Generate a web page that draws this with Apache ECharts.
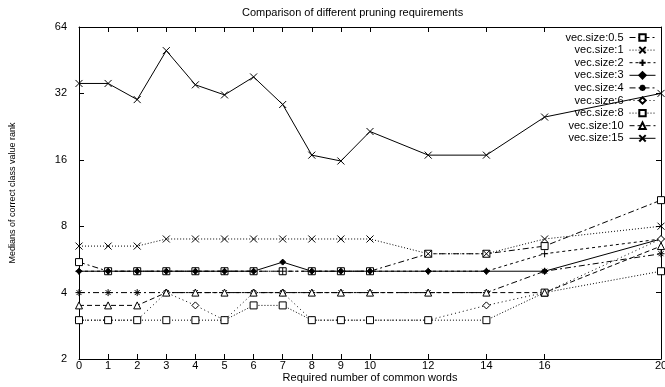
<!DOCTYPE html>
<html>
<head>
<meta charset="utf-8">
<script src="https://cdn.jsdelivr.net/npm/echarts@6/dist/echarts.min.js"></script>
<style>
  html, body { margin: 0; padding: 0; background: #fff; }
  #chart { width: 665px; height: 387px; }
</style>
</head>
<body>
<div id="chart"></div>
<script>
// x positions (required number of common words)
const words = [0, 1, 2, 3, 4, 5, 6, 7, 8, 9, 10, 12, 14, 16, 20];
const xTicks = [0, 1, 2, 3, 4, 5, 6, 7, 8, 9, 10, 12, 14, 16, 20];
const yTicks = [2, 4, 8, 16, 32, 64];

// median rank per vector size
const vs05 = [5.5, 5, 5, 5, 5, 5, 5, 5, 5, 5, 5, 6, 6, 6.5, 10.5];
const vs1  = [6.5, 6.5, 6.5, 7, 7, 7, 7, 7, 7, 7, 7, 6, 6, 7, 8];
const vs2  = [5, 5, 5, 5, 5, 5, 5, 5, 5, 5, 5, 5, 5, 6, 7];
const vs3  = [5, 5, 5, 5, 5, 5, 5, 5.5, 5, 5, 5, 5, 5, 5, 7];
const vs4  = [4, 4, 4, 4, 4, 4, 4, 4, 4, 4, 4, 4, 4, 5, 6];
const vs6  = [3, 3, 3, 4, 3.5, 3, 4, 4, 3, 3, 3, 3, 3.5, 4, 7];
const vs8  = [3, 3, 3, 3, 3, 3, 3.5, 3.5, 3, 3, 3, 3, 3, 4, 5];
const vs10 = [3.5, 3.5, 3.5, 4, 4, 4, 4, 4, 4, 4, 4, 4, 4, 4, 6.5];
const vs15 = [35.5, 35.5, 30, 50, 35, 31.5, 38, 28.5, 16.8, 15.8, 21.5, 16.8, 16.8, 25, 32];

// gnuplot-like point shapes
const SYM = {
    cross: 'path://M0,0L10,10M10,0L0,10',
    plus: 'path://M5,0L5,10M0,5L10,5',
    star: 'path://M5,0L5,10M0,5L10,5M1.5,1.5L8.5,8.5M8.5,1.5L1.5,8.5',
    square: 'path://M0,0L10,0L10,10L0,10Z',
    diamond: 'path://M5,0L10,5L5,10L0,5Z',
    triangle: 'path://M5,0L10,9L0,9Z'
};

const FONT = 'Liberation Sans, Arial, sans-serif';

const mk = (name, vals, symbol, dash, fill, size) => ({
    name: name,
    type: 'line',
    data: words.map((x, i) => [x, vals[i]]),
    symbol: symbol,
    symbolSize: size || 7,
    showSymbol: true,
    lineStyle: { color: '#000', width: 1, type: dash },
    itemStyle: { color: fill || '#fff', borderColor: '#000', borderWidth: 1 },
    emphasis: { disabled: true }
});

const series = [
    mk('vec.size:0.5', vs05, SYM.square, [6, 3, 2, 3]),
    mk('vec.size:1', vs1, SYM.cross, [1, 2]),
    mk('vec.size:2', vs2, SYM.plus, [3, 3]),
    mk('vec.size:3', vs3, SYM.diamond, 'solid', '#000', 6),
    mk('vec.size:4', vs4, SYM.star, [6, 3, 2, 3]),
    mk('vec.size:6', vs6, SYM.diamond, [1, 3]),
    mk('vec.size:8', vs8, SYM.square, [1, 2]),
    mk('vec.size:10', vs10, SYM.triangle, [5, 3]),
    mk('vec.size:15', vs15, SYM.cross, 'solid')
];

const chart = echarts.init(document.getElementById('chart'));

const xAxisBase = {
    type: 'value',
    min: 0,
    max: 20,
    interval: 1,
    splitLine: { show: false },
    axisLine: { show: true, onZero: false, lineStyle: { color: '#000', width: 1 } },
    axisTick: { show: true, inside: true, length: 5, customValues: xTicks, lineStyle: { color: '#000' } }
};

const yAxisBase = {
    type: 'log',
    logBase: 2,
    min: 2,
    max: 64,
    splitLine: { show: false },
    axisLine: { show: true, onZero: false, lineStyle: { color: '#000', width: 1 } },
    axisTick: { show: true, inside: true, length: 5, lineStyle: { color: '#000' } }
};

chart.setOption({
    animation: false,
    backgroundColor: '#fff',
    textStyle: { fontFamily: FONT },
    title: {
        text: 'Comparison of different pruning requirements',
        left: 237,
        top: 2,
        textStyle: { fontSize: 11, fontWeight: 'normal', color: '#000', fontFamily: FONT }
    },
    legend: {
        orient: 'vertical',
        right: 4,
        top: 27,
        align: 'right',
        itemWidth: 26,
        itemHeight: 8,
        itemGap: 1.6,
        selectedMode: false,
        lineStyle: { width: 1 },
        textStyle: { fontSize: 11, color: '#000', fontFamily: FONT, padding: [0, 1, 0, 0] },
        data: series.map(s => s.name)
    },
    grid: { left: 79, right: 4, top: 27, bottom: 28, outerBoundsMode: 'none', containLabel: false },
    xAxis: [
        Object.assign({}, xAxisBase, {
            position: 'bottom',
            name: 'Required number of common words',
            nameLocation: 'middle',
            nameGap: 13,
            nameMoveOverlap: false,
            nameTextStyle: { fontSize: 11, color: '#000', fontFamily: FONT },
            axisLabel: { customValues: xTicks, margin: 1, fontSize: 11, color: '#000', fontFamily: FONT }
        }),
        Object.assign({}, xAxisBase, {
            position: 'top',
            axisLabel: { show: false }
        })
    ],
    yAxis: [
        Object.assign({}, yAxisBase, {
            position: 'left',
            name: 'Medians of correct class value rank',
            nameLocation: 'middle',
            nameGap: 62,
            nameTextStyle: { fontSize: 9, color: '#000', fontFamily: FONT },
            axisLabel: { margin: 12, fontSize: 11, color: '#000', fontFamily: FONT }
        }),
        Object.assign({}, yAxisBase, {
            position: 'right',
            axisLabel: { show: false }
        })
    ],
    series: series
});
</script>
</body>
</html>
